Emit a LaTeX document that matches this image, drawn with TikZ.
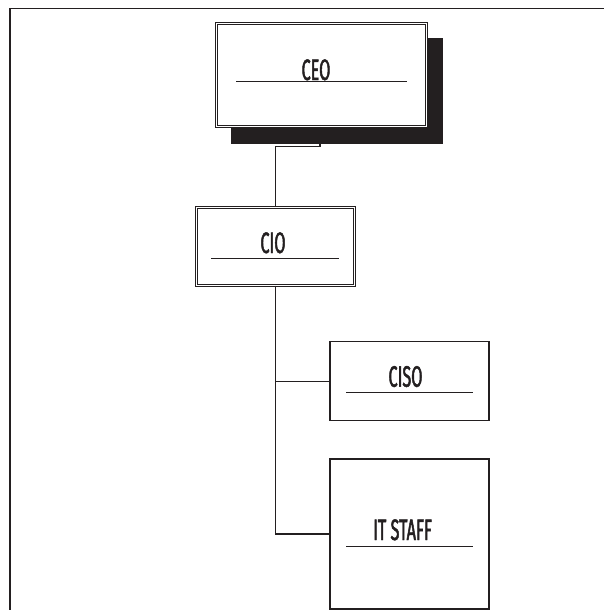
\documentclass[tikz,border=0pt]{standalone}
\usepackage{fontspec}
\setmainfont[FakeStretch=0.55, FakeBold=1.6]{Fira Sans}
\definecolor{ink}{HTML}{231F20}
\begin{document}
\begin{tikzpicture}[x=1pt,y=-1pt,
  dbox/.style={draw=ink, double, double distance=1.8pt, line width=0.8pt, fill=white, inner sep=0pt},
  sbox/.style={draw=ink, line width=1.1pt, fill=white, inner sep=0pt},
  lbl/.style={anchor=base, inner sep=0pt, text=ink, font=\fontsize{29.5}{30}\selectfont},
  uline/.style={draw=ink, line width=0.9pt},
  conn/.style={draw=ink, line width=1.2pt}]
\useasboundingbox (0,0) rectangle (603,610);
% outer frame
\draw[ink, line width=1.5pt] (10,611) -- (10,8.3) -- (604,8.3);
% CEO shadow and box
\fill[ink] (230.7,37.7) rectangle (442.7,144);
\node[dbox, minimum width=210pt, minimum height=103pt] (ceo) at (321.5,75) {};
\node[lbl] (ceot) at (316,80) {CEO};
\draw[uline] (236,81.7) -- (406.7,81.7);
% CIO
\node[dbox, minimum width=158pt, minimum height=78pt] (cio) at (275.4,246.5) {};
\node[lbl] (ciot) at (273,253) {CIO};
\draw[uline] (211,258) -- (339,258);
% CISO
\node[sbox, minimum width=159pt, minimum height=79pt] (ciso) at (409.5,381.2) {};
\node[lbl] (cisot) at (405.5,386.7) {CISO};
\draw[uline] (346,392) -- (473,392);
% IT STAFF
\node[sbox, minimum width=159pt, minimum height=150pt] (it) at (409.5,534) {};
\node[lbl] (itt) at (402.5,540) {IT STAFF};
\draw[uline] (346,546) -- (473,546);
% connectors
\coordinate (j1) at (320,146.7);
\draw[conn] (ceo.south -| j1) -- (j1) -| (cio.north);
\draw[conn] (cio.south) |- (ciso.west);
\draw[conn] (cio.south) |- (it.west);
\end{tikzpicture}
\end{document}
